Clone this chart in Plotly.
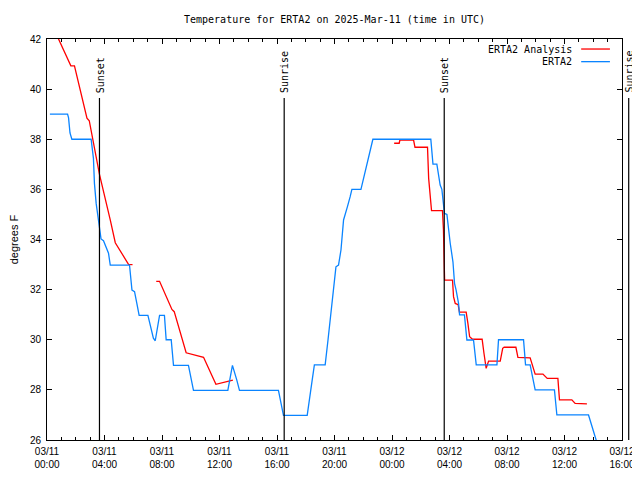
import pandas as pd
import plotly.graph_objects as go

# ---- data (hours after 2025-03-11 00:00 UTC, temperature in deg F) ----
start = pd.Timestamp("2025-03-11 00:00")
end = pd.Timestamp("2025-03-12 16:00")

analysis_hours = [0.2, 1.66, 1.91, 2.78, 2.94, 3.65, 4.4, 4.75, 5.67, 5.95, None,
                  7.6, 7.83, 8.69, 8.85, 9.68, 10.89, 11.75, 12.93, None,
                  24.15, 24.5, 24.55, 25.5, 25.6, 26.47, 26.55, 26.65, 26.75, 27.51,
                  27.58, 27.63, 27.66, 28.21, 28.28, 28.4, 28.6, 28.69, 29.16, 29.28,
                  29.4, 29.6, 30.27, 30.4, 30.55, 30.72, 31.53, 31.7, 31.8, 32.62,
                  32.76, 33.61, 33.84, 33.96, 34.5, 34.8, 35.54, 35.65, 36.51, 36.74, 37.56]
analysis_temps = [42.75, 40.93, 40.93, 38.84, 38.74, 36.6, 34.78, 33.87, 33.01, 33.0, None,
                  32.33, 32.33, 31.21, 31.12, 29.48, 29.3, 28.22, 28.39, None,
                  37.84, 37.84, 37.97, 37.97, 37.68, 37.68, 36.44, 35.58, 35.15, 35.15,
                  34.38, 33.07, 32.38, 32.38, 31.72, 31.45, 31.4, 31.1, 31.1, 30.65,
                  30.12, 30.02, 30.02, 29.45, 28.86, 29.15, 29.15, 29.66, 29.7, 29.7,
                  29.3, 29.28, 28.79, 28.63, 28.63, 28.46, 28.46, 27.6, 27.6, 27.46, 27.44]

obs_hours = [0.2, 1.43, 1.5, 1.57, 1.6, 1.73, 3.07, 3.23, 3.3, 3.42, 3.65, 3.76, 3.93,
             4.28, 4.4, 5.74, 5.91, 6.09, 6.25, 6.41, 7.02, 7.4, 7.53, 7.69, 7.83, 8.17,
             8.29, 8.64, 8.76, 8.8, 9.84, 10.08, 10.19, 12.58, 12.9, 13.2, 13.39, 16.1,
             16.27, 16.45, 18.1, 18.3, 18.45, 18.6, 19.35, 19.55, 19.75, 19.93, 20.1,
             20.28, 20.45, 20.63, 20.74, 20.9, 21.09, 21.21, 21.84, 22.02, 22.25, 22.48,
             22.67, 26.7, 26.82, 26.85, 27.12, 27.24, 27.35, 27.47, 27.58, 27.65, 27.82,
             27.93, 28.05, 28.24, 28.35, 28.46, 28.63, 28.7, 29.04, 29.21, 29.67, 29.86,
             31.3, 31.41, 33.15, 33.29, 33.61, 33.96, 35.3, 35.47, 37.67, 38.2, 38.35]
obs_temps = [39.0, 39.0, 38.85, 38.5, 38.25, 38.0, 38.0, 37.24, 36.24, 35.44, 34.6, 34.02, 33.95,
             33.45, 32.98, 32.98, 31.98, 31.92, 31.45, 30.97, 30.97, 30.06, 29.96, 30.52, 30.97, 30.97,
             30.0, 30.0, 29.32, 28.98, 28.98, 28.26, 27.98, 27.98, 28.98, 28.4, 27.98, 27.98,
             27.5, 26.98, 26.98, 27.9, 28.4, 29.0, 29.0, 30.0, 31.0, 31.98, 32.91,
             32.98, 33.58, 34.78, 35.04, 35.31, 35.71, 36.0, 36.0, 36.44, 36.9, 37.57,
             38.0, 38.0, 37.24, 37.01, 37.01, 36.64, 36.17, 36.0, 35.44, 35.04, 35.0,
             34.38, 33.85, 33.11, 32.25, 31.98, 31.45, 30.99, 30.99, 29.99, 29.99, 29.0,
             29.0, 30.0, 30.0, 29.0, 29.0, 28.0, 28.0, 27.0, 27.0, 26.0, 25.9]

sun_events = ["Sunset", "Sunrise", "Sunset", "Sunrise"]
sun_times = ["2025-03-11 03:39", "2025-03-11 16:30", "2025-03-12 03:38", "2025-03-12 16:28"]

y_ticks = [26, 28, 30, 32, 34, 36, 38, 40, 42]


def to_time(hours):
    return [None if h is None else start + pd.Timedelta(hours=h) for h in hours]


fig = go.Figure()
fig.add_trace(go.Scatter(x=to_time(analysis_hours), y=analysis_temps, mode="lines",
                         name="ERTA2 Analysis", line=dict(color="#ff0000", width=1.3),
                         connectgaps=False))
fig.add_trace(go.Scatter(x=to_time(obs_hours), y=obs_temps, mode="lines",
                         name="ERTA2", line=dict(color="#0a84ff", width=1.3)))

mono = "DejaVu Sans Mono"
sans = "Liberation Sans"
span = (end - start).total_seconds()
line_top = 39.65
for name, t in zip(sun_events, sun_times):
    frac = (pd.Timestamp(t) - start).total_seconds() / span
    fig.add_shape(type="line", xref="paper", yref="y", x0=frac, x1=frac, y0=26, y1=line_top,
                  line=dict(color="black", width=1.2))
    fig.add_annotation(xref="paper", yref="y", x=frac, y=line_top, text=name, textangle=-90,
                       showarrow=False, xanchor="center", yanchor="bottom", yshift=3, xshift=1,
                       font=dict(family=mono, size=10, color="black"))

# legend drawn gnuplot-style (text right, sample on the right)
legend_items = [("ERTA2 Analysis", "#ff0000", 0.975), ("ERTA2", "#0a84ff", 0.9435)]
for label, color, yy in legend_items:
    fig.add_annotation(xref="paper", yref="paper", x=0.9165, y=yy, text=label, showarrow=False,
                       xanchor="right", yanchor="middle", font=dict(family=mono, size=10, color="black"))
    fig.add_shape(type="line", xref="paper", yref="paper", x0=0.929, x1=0.979, y0=yy, y1=yy,
                  line=dict(color=color, width=1.3))

# page body has an 8px margin; the figure is sized so that the plot lands where the reference's does
fig.update_layout(
    width=632, height=472,
    margin=dict(l=39, r=18, t=31, b=40),
    paper_bgcolor="white", plot_bgcolor="white",
    showlegend=False,
    title=dict(text="Temperature for ERTA2 on 2025-Mar-11 (time in UTC)", x=0.5, xref="paper",
               xanchor="center", y=1 - 11 / 472, yref="container", yanchor="middle",
               font=dict(family=mono, size=10, color="black")),
    font=dict(family=sans, size=10, color="black"),
)
fig.update_xaxes(
    type="date", range=[start, end], tickmode="linear", tick0=start, dtick=4 * 3600 * 1000,
    tickformat="%m/%d<br>%H:%M", ticks="inside", ticklen=5, tickcolor="black",
    showline=True, linecolor="black", linewidth=1, mirror="ticks", showgrid=False, zeroline=False,
    minor=dict(dtick=3600 * 1000, ticks="inside", ticklen=3, tickcolor="black", showgrid=False),
    tickfont=dict(family=sans, size=10, color="black"), ticklabelstandoff=2, automargin=False,
)
fig.update_yaxes(
    range=[26, 42], tickmode="array", tickvals=y_ticks, ticktext=[str(v) for v in y_ticks],
    ticks="inside", ticklen=5, tickcolor="black", showline=True, linecolor="black", linewidth=1,
    mirror="ticks", showgrid=False, zeroline=False, ticklabelstandoff=3, automargin=False,
    title=dict(text="degrees F", font=dict(family=sans, size=11, color="black"), standoff=14),
    tickfont=dict(family=sans, size=10, color="black"),
)

fig.write_html("out.html")
